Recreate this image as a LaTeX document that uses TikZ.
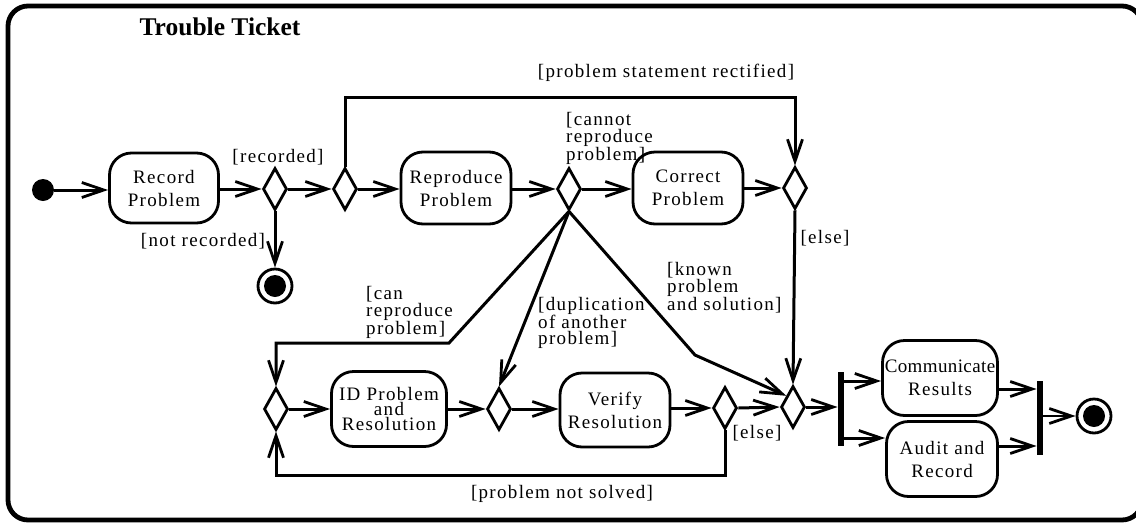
\documentclass[tikz,border=0pt]{standalone}
\usepackage{fontspec}
\setmainfont{Liberation Serif}[LetterSpace=7]
\newfontfamily\titlefont{Liberation Serif}
\usetikzlibrary{arrows.meta,shapes.geometric}

\tikzset{
  conn/.style={line width=3pt,-{Straight Barb[length=22pt,width=15pt,line width=2.8pt]}},
  activity/.style={draw,line width=2.8pt,rounded corners=22pt,minimum width=110pt,minimum height=72pt,
    align=center,inner sep=0pt,font=\fontsize{19pt}{23pt}\selectfont},
  choice/.style={draw,diamond,line width=2.8pt,minimum width=24pt,minimum height=42pt,inner sep=0pt},
  guard/.style={inner sep=0pt,font=\fontsize{19pt}{15.5pt}\selectfont},
  multiguard/.style={guard,align=left,anchor=north west},
  syncbar/.style={fill,minimum width=6.5pt,inner sep=0pt},
  startdot/.style={fill,circle,minimum size=22pt,inner sep=0pt},
  enddot/.style={draw,circle,line width=2.8pt,minimum size=34pt,inner sep=0pt},
}

\begin{document}
\begin{tikzpicture}[x=1pt,y=-1pt]
\useasboundingbox (0,0) rectangle (1136,523);

% outer frame
\draw[line width=4.8pt,rounded corners=20pt] (8,6) rectangle (1142,520);
\node[font=\titlefont\bfseries\fontsize{25.5pt}{28pt}\selectfont,inner sep=0pt] (title) at (220,27) {Trouble Ticket};

% upper row
\node[startdot] (init) at (43,190) {};
\node[activity,minimum width=109pt,minimum height=70pt] (rec) at (164,188) {Record\\Problem};
\node[choice] (d1) at (275,189) {};
\node[choice] (d2) at (345,189) {};
\node[activity] (repro) at (456,188) {Reproduce\\Problem};
\node[choice] (d3) at (569,189) {};
\node[activity] (corr) at (688,188) {Correct\\Problem};
\node[choice] (d5) at (795,188) {};
\node[enddot] (fin1) at (275,286) {};
\fill (fin1.center) circle (11pt);

% lower row
\node[choice] (d6) at (276,409) {};
\node[activity,minimum width=115pt,minimum height=75pt,font=\fontsize{19pt}{15pt}\selectfont] (idp) at (389,409) {ID Problem\\and\\Resolution};
\node[choice] (d7) at (499,409) {};
\node[activity,minimum height=74pt] (ver) at (615,410) {Verify\\Resolution};
\node[choice] (d9) at (725,408) {};
\node[choice] (d8) at (793,407) {};
\node[syncbar,minimum height=74pt] (fork) at (841,409) {};
\node[activity,minimum width=115pt,minimum height=75pt] (comm) at (940,378) {\addfontfeature{LetterSpace=2}Communicate\\Results};
\node[activity,minimum width=111pt,minimum height=75pt] (aud) at (942,459) {Audit and\\Record};
\node[syncbar,minimum height=74pt] (join) at (1040,418) {};
\node[enddot] (fin2) at (1094,416) {};
\fill (fin2.center) circle (11pt);

% helper coordinates for bends and entry heights
\coordinate (topline) at (0,97);
\coordinate (botline) at (0,475);
\coordinate (canbend) at (449,343);
\coordinate (knownbend) at (695,355);
\coordinate (f1) at (0,381);
\coordinate (f2) at (0,438);
\coordinate (j1) at (0,389);
\coordinate (j2) at (0,446);

% connectors
\draw[conn] (init) -- (rec.west |- init);
\draw[conn] (rec.east |- d1.west) -- (d1.west);
\draw[conn] (d1.south) -- (fin1.north);
\draw[conn] (d1.east) -- (d2.west);
\draw[conn] (d2.east) -- (repro.west |- d2.east);
\draw[conn] (d2.north) -- (d2.north |- topline) -| (d5.north);
\draw[conn] (repro.east |- d3.west) -- (d3.west);
\draw[conn] (d3.east) -- (corr.west |- d3.east);
\draw[conn] (corr.east |- d5.west) -- (d5.west);
\draw[conn] (d5.south) -- (d8.north);
\draw[conn] (d3.south) -- (canbend) -- (canbend -| d6.north) -- (d6.north);
\draw[conn] (d3.south) -- (d7.north);
\draw[conn] (d3.south) -- (knownbend) -- (d8.north west);
\draw[conn] (d6.east) -- (idp.west |- d6.east);
\draw[conn] (idp.east |- d7.west) -- (d7.west);
\draw[conn] (d7.east) -- (ver.west |- d7.east);
\draw[conn] (ver.east |- d9.west) -- (d9.west);
\draw[conn] (d9.east) -- (d8.west);
\draw[conn] (d9.south) -- (d9.south |- botline) -| (d6.south);
\draw[conn] (d8.east) -- (fork.west |- d8.east);
\draw[conn] (fork.east |- f1) -- (comm.west |- f1);
\draw[conn] (fork.east |- f2) -- (aud.west |- f2);
\draw[conn] (comm.east |- j1) -- (join.west |- j1);
\draw[conn] (aud.east |- j2) -- (join.west |- j2);
\draw[conn,line width=2pt] (join.east |- fin2.west) -- (fin2.west);

% guard labels
\node[guard] (g1) at (278,157) {[recorded]};
\node[guard] (g2) at (203,241) {[not recorded]};
\node[guard] (g3) at (666,73) {[problem statement rectified]};
\node[guard] (g4) at (825,238) {[else]};
\node[guard] (g5) at (757,433) {[else]};
\node[guard] (g6) at (562,494) {[problem not solved]};
\node[multiguard] (g7) at (566,112) {[cannot\\reproduce\\problem]};
\node[multiguard] (g8) at (366,286) {[can\\reproduce\\problem]};
\node[multiguard] (g9) at (538,297) {[duplication\\of another\\problem]};
\node[multiguard] (g10) at (667,262) {[known\\problem\\and solution]};
\end{tikzpicture}
\end{document}
